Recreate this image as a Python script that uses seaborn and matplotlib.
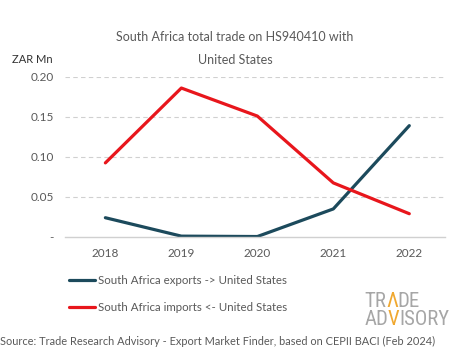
import pandas as pd
import seaborn as sns
import matplotlib.pyplot as plt
from matplotlib import font_manager

years = ["2018", "2019", "2020", "2021", "2022"]
exports = [0.024, 0.001, 0.0005, 0.035, 0.139]
imports = [0.0925, 0.186, 0.151, 0.0675, 0.029]
series_names = ["South Africa exports -> United States", "South Africa imports <- United States"]
yticks = [0, 0.05, 0.10, 0.15, 0.20]
ytick_labels = ["-", "0.05", "0.10", "0.15", "0.20"]

df = pd.DataFrame({
    "year": years * 2,
    "value": exports + imports,
    "series": [series_names[0]] * 5 + [series_names[1]] * 5,
})

sns.set_style("white")
plt.rcParams["font.family"] = ["Lato", "DejaVu Sans"]
grey = "#595959"

fig = plt.figure(figsize=(4.65, 3.59), dpi=100)
ax = fig.add_axes([0.140, 0.340, 0.817, 0.446])

sns.lineplot(
    data=df, x="year", y="value", hue="series",
    palette=["#1c4a5c", "#e8161c"], linewidth=2.3, ax=ax, legend=False,
    sort=False,
)

ax.set_xlim(-0.53, 4.47)
ax.set_ylim(0, 0.2)
ax.set_yticks(yticks)
ax.set_yticklabels(ytick_labels)
ax.set_xlabel("")
ax.set_ylabel("")
ax.tick_params(axis="both", length=0, labelsize=8.5, labelcolor=grey, pad=8)
for y in yticks[1:]:
    ax.axhline(y, color="#d0d0d0", linewidth=0.8, linestyle=(0, (4, 3)), zorder=0)
for side in ["top", "right", "left"]:
    ax.spines[side].set_visible(False)
ax.spines["bottom"].set_color("#d0d0d0")
ax.spines["bottom"].set_linewidth(1.0)

fig.text(0.505, 0.897, "South Africa total trade on HS940410 with", ha="center", va="center",
         fontsize=9, color=grey)
fig.text(0.505, 0.833, "United States", ha="center", va="center", fontsize=9, color=grey)
fig.text(0.026, 0.833, "ZAR Mn", ha="left", va="center", fontsize=8, color="#333333")

# legend
handles = ax.get_lines()[:2]
fig.legend(handles, series_names, loc="upper left", bbox_to_anchor=(0.125, 0.263),
           frameon=False, fontsize=8.3, labelcolor=grey, handlelength=2.3,
           handletextpad=0.25, labelspacing=1.4)

# logo - narrow font if one is around
logo_font = "Liberation Sans"
for cand in ["Liberation Sans Narrow", "Roboto Condensed", "DejaVu Sans Condensed"]:
    try:
        font_manager.findfont(cand, fallback_to_default=False)
        logo_font = cand
        break
    except Exception:
        pass
logo_grey = "#a6a6a6"
orange = "#f0a830"

fig.canvas.draw()
renderer = fig.canvas.get_renderer()

probe = fig.text(0, 0, "ADVISORY", fontsize=14, family=logo_font)
w = probe.get_window_extent(renderer).width
probe.remove()
logo_size = 14 * 86 / w


def chain(x, y, parts):
    cur = x
    for txt, col in parts:
        t = fig.text(cur, y, txt, fontsize=logo_size, color=col, family=logo_font,
                     ha="left", va="baseline")
        cur += t.get_window_extent(renderer).width / fig.bbox.width


chain(0.783, 0.145, [("TR", logo_grey), ("\u039b", orange), ("DE", logo_grey)])
chain(0.783, 0.095, [("AD", logo_grey), ("V", orange), ("ISORY", logo_grey)])

fig.text(0.0, 0.05, "Source: Trade Research Advisory - Export Market Finder, based on CEPII BACI (Feb 2024)",
         ha="left", va="center", fontsize=7.9, color=grey)

fig.savefig("out.png", dpi=100, facecolor="white")
